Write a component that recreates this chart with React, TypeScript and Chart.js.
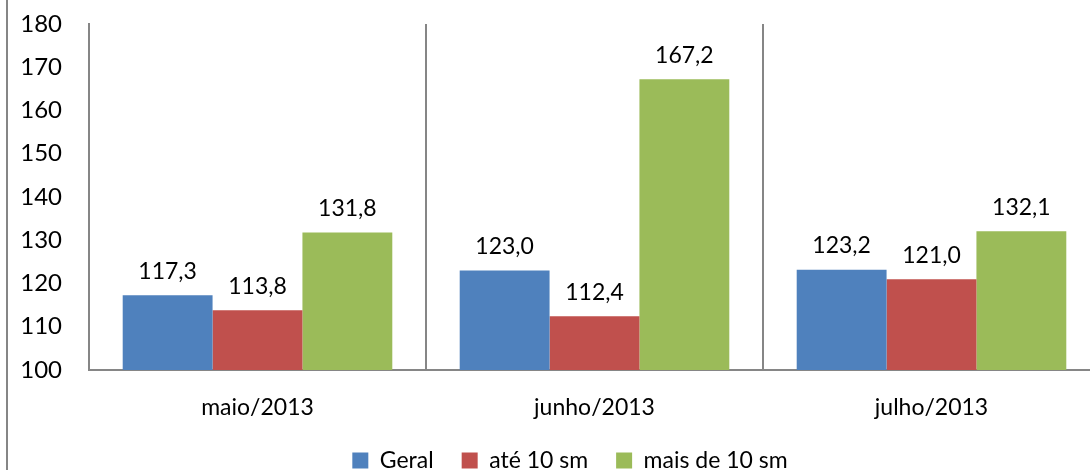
import React, { useEffect, useRef } from "react";
import { Chart, registerables } from "chart.js";

Chart.register(...registerables);

const categories = ["maio/2013", "junho/2013", "julho/2013"];
const seriesNames = ["Geral", "até 10 sm", "mais de 10 sm"];
const geral = [117.3, 123.0, 123.2];
const ate10 = [113.8, 112.4, 121.0];
const mais10 = [131.8, 167.2, 132.1];
const seriesColors = ["#4F81BD", "#C0504D", "#9BBB59"];
const yMin = 100;
const yMax = 180;
const yStep = 10;

const FONT = "Lato, 'Open Sans', sans-serif";
const GRID = "#868686";

const valueLabels = {
  id: "valueLabels",
  afterDatasetsDraw(chart: any) {
    const ctx = chart.ctx;
    ctx.save();
    ctx.font = `23px ${FONT}`;
    ctx.fillStyle = "#000";
    ctx.textAlign = "center";
    ctx.textBaseline = "middle";
    chart.data.datasets.forEach((ds: any, i: number) => {
      const meta = chart.getDatasetMeta(i);
      meta.data.forEach((bar: any, j: number) => {
        const v = ds.data[j] as number;
        ctx.fillText(v.toFixed(1).replace(".", ","), bar.x, bar.y - 24);
      });
    });
    ctx.restore();
  },
};

const legendShift = {
  id: "legendShift",
  afterLayout(chart: any) {
    if (chart.legend) {
      chart.legend.left += 20;
      chart.legend.right += 20;
      chart.legend.top -= 4;
      chart.legend.bottom -= 4;
    }
  },
};

export default function App() {
  const ref = useRef<HTMLCanvasElement | null>(null);
  useEffect(() => {
    if (!ref.current) return;
    const seriesData = [geral, ate10, mais10];
    const chart = new Chart(ref.current, {
      type: "bar",
      data: {
        labels: categories,
        datasets: seriesNames.map((name, i) => ({
          label: name,
          data: seriesData[i],
          backgroundColor: seriesColors[i],
          borderWidth: 0,
          categoryPercentage: 0.8,
          barPercentage: 1.0,
        })),
      },
      options: {
        responsive: false,
        animation: false,
        devicePixelRatio: 1,
        layout: { padding: { left: 0, right: 2, top: 24, bottom: 0 } },
        plugins: {
          legend: {
            position: "bottom",
            labels: {
              boxWidth: 16,
              boxHeight: 16,
              padding: 28,
              color: "#000",
              font: { family: FONT, size: 23 },
            },
          },
          tooltip: { enabled: false },
        },
        scales: {
          x: {
            grid: { display: true, offset: true, color: GRID, lineWidth: 2, drawTicks: false },
            border: { display: true, color: GRID, width: 2 },
            ticks: { color: "#000", font: { family: FONT, size: 23 }, padding: 24 },
            afterFit(scale: any) {
              scale.height = 55;
            },
          },
          y: {
            min: yMin,
            max: yMax,
            ticks: { stepSize: yStep, color: "#000", font: { family: FONT, size: 24 }, padding: 27 },
            grid: { display: false, drawTicks: false },
            border: { display: true, color: GRID, width: 2 },
            afterFit(scale: any) {
              scale.width = 89;
              scale.paddingTop = 0;
              scale.paddingBottom = 0;
            },
          },
        },
      },
      plugins: [valueLabels, legendShift],
    });
    return () => chart.destroy();
  }, []);

  return (
    <div
      style={{
        position: "fixed",
        left: 0,
        top: 0,
        width: 1090,
        height: 470,
        overflow: "hidden",
        background: "#fff",
      }}
    >
      <canvas ref={ref} width={1102} height={486} style={{ position: "absolute", left: 0, top: 0 }} />
      <div style={{ position: "absolute", left: 6, top: 0, width: 2, height: 470, background: GRID }} />
    </div>
  );
}
